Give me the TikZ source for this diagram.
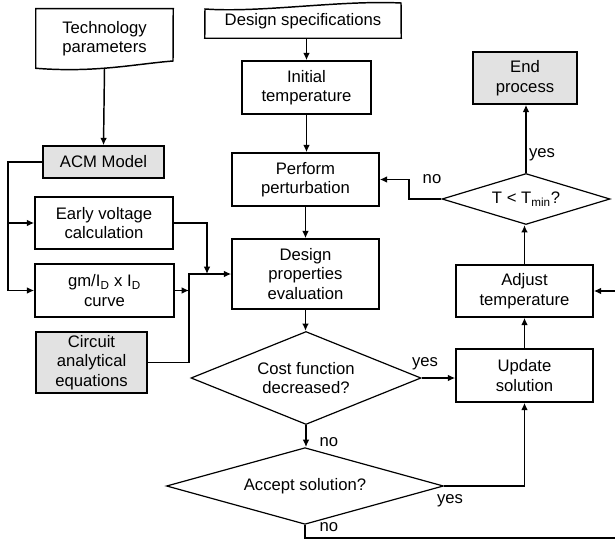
\documentclass[tikz,border=0pt]{standalone}
\usepackage{fontspec}
\setmainfont{Liberation Sans}
\usetikzlibrary{shapes.geometric,arrows.meta}
\definecolor{boxgray}{RGB}{226,226,226}
\begin{document}
\begin{tikzpicture}[x=0.75pt,y=0.75pt,yscale=-1,xscale=1,
  txt/.style={align=center,font=\fontsize{12.5}{14.6}\selectfont},
  blk/.style={txt,draw,line width=1.1pt,inner sep=1pt},
  grayblk/.style={blk,fill=boxgray},
  dec/.style={txt,diamond,draw,line width=0.9pt,inner sep=0pt,aspect=2},
  arr/.style={line width=1.1pt,-{Latex[length=5.5pt,width=5pt]}},
  lbl/.style={font=\fontsize{12.5}{14.6}\selectfont,inner sep=0pt}]
\useasboundingbox (0,0) rectangle (615,542);
\node[txt,minimum width=102.75pt,minimum height=44.25pt] (tech) at (104.5,38.5) {Technology\\parameters};
\node[grayblk,minimum width=90.75pt,minimum height=24pt] (acm) at (103.5,162) {ACM Model};
\node[blk,minimum width=103.5pt,minimum height=39pt] (early) at (104,223) {Early voltage\\calculation};
\node[blk,minimum width=104.25pt,minimum height=39.75pt] (gm) at (104.5,290.5) {gm/I\textsubscript{D} x I\textsubscript{D}\\curve};
\node[grayblk,minimum width=83.25pt,minimum height=45.75pt] (circ) at (91.5,362.5) {Circuit\\analytical\\equations};
\node[txt,minimum width=147pt,minimum height=25.5pt] (spec) at (303,21) {Design specifications};
\node[blk,minimum width=96.75pt,minimum height=39.75pt] (init) at (306.5,87.5) {Initial\\temperature};
\node[blk,minimum width=110.25pt,minimum height=39.75pt] (perturb) at (305.5,179.5) {Perform\\perturbation};
\node[blk,minimum width=110.25pt,minimum height=52.5pt] (props) at (305.5,274) {Design\\properties\\evaluation};
\node[dec,minimum width=172.5pt,minimum height=69.75pt] (cost) at (306,378) {Cost function\\decreased?};
\node[dec,minimum width=207.75pt,minimum height=39.75pt] (accept) at (305,486) {Accept solution?};
\node[grayblk,minimum width=78pt,minimum height=39pt] (endp) at (525,78) {End\\process};
\node[dec,minimum width=126pt,minimum height=38.25pt] (tmin) at (526,199) {T < T\textsubscript{min}?};
\node[blk,minimum width=102.75pt,minimum height=39pt] (adjust) at (524.5,291) {Adjust\\temperature};
\node[blk,minimum width=102.75pt,minimum height=39.75pt] (update) at (524.5,375.5) {Update\\solution};
\draw[line width=1.1pt] (tech.north west) -- (tech.north east) -- (173,61) .. controls (135,64) and (95,73) .. (tech.south west) -- cycle;
\draw[line width=1.1pt] (spec.south west) -- (spec.south east) -- (401,3) .. controls (340,0) and (260,13) .. (205,9) -- cycle;
\coordinate (lbus) at (8,162);
\coordinate (bus) at (189,274);
\coordinate (jn) at (207,274);
\coordinate (nobend) at (409,199);
\coordinate (botr) at (618,538);
\draw[arr] (tech.south) -- (acm.north);
\draw[arr] (acm.west) -- (lbus) |- (gm.west);
\draw[arr] (lbus |- early.west) -- (early.west);
\draw[arr] (early.east) -| (jn);
\draw[arr] (gm.east) -- (gm.east -| bus);
\draw[arr] (circ.east) -| (bus) -- (props.west);
\draw[arr] (spec.south -| init.north) -- (init.north);
\draw[arr] (init.south) -- (init.south |- perturb.north);
\draw[arr] (perturb.south) -- (props.north);
\draw[arr] (props.south) -- (props.south |- cost.north);
\draw[arr] (cost.east) -- (cost.east -| update.west);
\draw[arr] (cost.south) -- (cost.south |- accept.north);
\draw[arr] (accept.east) -| (update.south);
\draw[arr] (update.north) -- (adjust.south);
\draw[arr] (adjust.north) -- (adjust.north |- tmin.south);
\draw[arr] (tmin.north) -- (tmin.north |- endp.south);
\draw[arr] (tmin.west) -- (nobend) |- (perturb.east);
\draw[arr] (accept.south) -- (accept.south |- botr) -- (botr) |- (adjust.east);
\node[lbl] (yes1) at (542,155) {yes};
\node[lbl] (no1) at (432,179) {no};
\node[lbl] (yes2) at (425,364) {yes};
\node[lbl] (no2) at (329,442) {no};
\node[lbl] (yes3) at (450,501) {yes};
\node[lbl] (no3) at (329,527) {no};
\end{tikzpicture}
\end{document}
